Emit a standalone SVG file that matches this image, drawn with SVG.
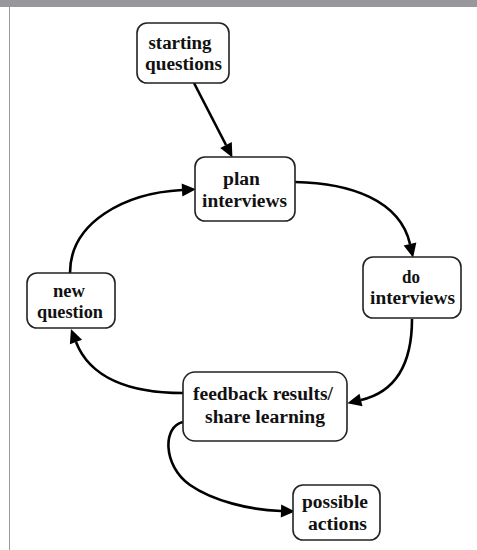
<svg xmlns="http://www.w3.org/2000/svg" width="477" height="550" viewBox="0 0 477 550">
<style>
.box{fill:#fff;stroke:#222;stroke-width:1.6}
.t{font-family:"Liberation Serif","Times New Roman",serif;font-weight:bold;font-size:18px;fill:#111;text-anchor:middle}
.c{fill:none;stroke:#000;stroke-width:2.6}
</style>
<defs>
<marker id="ah" markerUnits="userSpaceOnUse" markerWidth="16" markerHeight="16" refX="0" refY="0" viewBox="0 -8 16 16" orient="auto" overflow="visible">
<path d="M0,-6.5 L14,0 L0,6.5 z" fill="#000"/>
</marker>
</defs>
<rect x="0" y="0" width="477" height="7" fill="#98989c"/>
<line x1="9.5" y1="7" x2="9.5" y2="550" stroke="#9a9a9a" stroke-width="1"/>
<g id="connectors">
<path class="c" d="M194,83 L226,145" marker-end="url(#ah)"/>
<path class="c" d="M70,273 C70,222 125,193 182,190" marker-end="url(#ah)"/>
<path class="c" d="M295,182 C350,183 400,200 410,244" marker-end="url(#ah)"/>
<path class="c" d="M412,319 C412,365 395,392 361,400" marker-end="url(#ah)"/>
<path class="c" d="M183,393 C130,393 90,378 76,342" marker-end="url(#ah)"/>
<path class="c" d="M183,422 C163,426 162,465 190,485 C213,501 250,510 281,511" marker-end="url(#ah)"/>
</g>
<g id="starting">
<rect class="box" x="137" y="23" width="92" height="60" rx="10"/>
<text class="t" x="180" y="49" textLength="63" lengthAdjust="spacingAndGlyphs">starting</text>
<text class="t" x="183.5" y="70" textLength="77" lengthAdjust="spacingAndGlyphs">questions</text>
</g>
<g id="plan">
<rect class="box" x="195" y="157" width="100" height="64" rx="10"/>
<text class="t" x="241.5" y="185" textLength="37" lengthAdjust="spacingAndGlyphs">plan</text>
<text class="t" x="244.5" y="207" textLength="85" lengthAdjust="spacingAndGlyphs">interviews</text>
</g>
<g id="do">
<rect class="box" x="363" y="257" width="98" height="61" rx="10"/>
<text class="t" x="411" y="283" textLength="18" lengthAdjust="spacingAndGlyphs">do</text>
<text class="t" x="412.5" y="304" textLength="85" lengthAdjust="spacingAndGlyphs">interviews</text>
</g>
<g id="new">
<rect class="box" x="27" y="273" width="88" height="55" rx="10"/>
<text class="t" x="69" y="297" textLength="32" lengthAdjust="spacingAndGlyphs">new</text>
<text class="t" x="70" y="318" textLength="66" lengthAdjust="spacingAndGlyphs">question</text>
</g>
<g id="feedback">
<rect class="box" x="183" y="372" width="164" height="69" rx="12"/>
<text class="t" x="263" y="400" textLength="140" lengthAdjust="spacingAndGlyphs">feedback results/</text>
<text class="t" x="265" y="423" textLength="120" lengthAdjust="spacingAndGlyphs">share learning</text>
</g>
<g id="possible">
<rect class="box" x="293" y="485" width="87" height="55" rx="10"/>
<text class="t" x="335" y="508" textLength="66" lengthAdjust="spacingAndGlyphs">possible</text>
<text class="t" x="337.5" y="530" textLength="59" lengthAdjust="spacingAndGlyphs">actions</text>
</g>
</svg>
